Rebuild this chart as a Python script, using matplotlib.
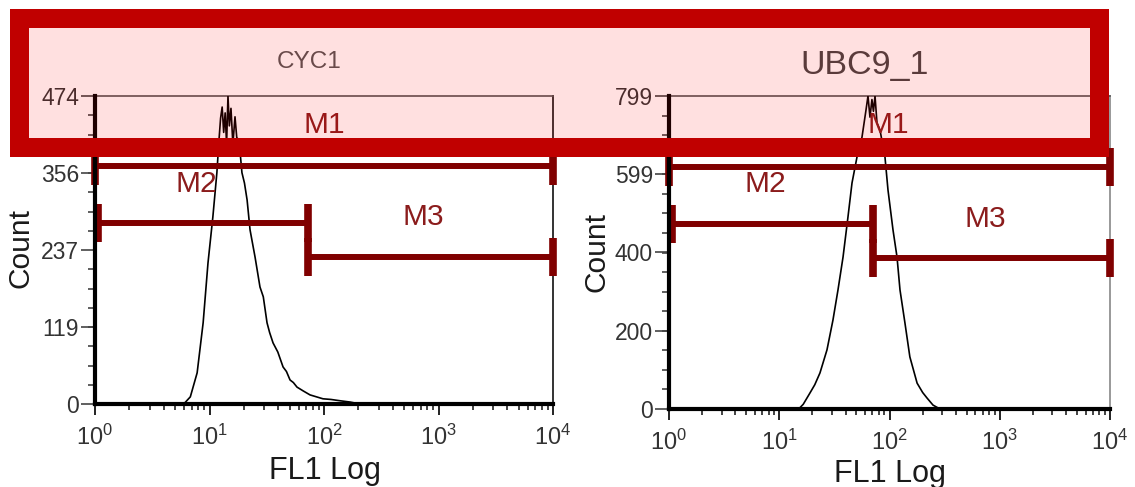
import matplotlib
matplotlib.use("Agg")
import matplotlib.pyplot as plt
from matplotlib.patches import Rectangle
from matplotlib.ticker import FixedLocator, LogLocator, NullFormatter
import numpy as np

plt.rcParams['font.family'] = ['Liberation Sans', 'DejaVu Sans']
plt.rcParams['mathtext.default'] = 'regular'

# ---------------- data ----------------
panel_titles = ["CYC1", "UBC9_1"]
x_label = "FL1 Log"
y_label = "Count"
x_ticks = [1, 10, 100, 1000, 10000]
x_tick_labels = ["$10^{0}$", "$10^{1}$", "$10^{2}$", "$10^{3}$", "$10^{4}$"]

cyc1_yticks = [0, 119, 237, 356, 474]
ubc9_yticks = [0, 200, 400, 599, 799]

cyc1_fl1 = [6.1, 6.8, 7.8, 8.8, 9.7, 10.7, 11.6, 12.1, 12.5, 12.9, 13.3, 13.7,
            14.1, 14.5, 14.9, 15.4, 16.0, 16.7, 17.3, 18.1, 19.2, 20.2, 21.3,
            22.6, 25.0, 27.6, 29.5, 31.8, 33.5, 35.9, 39.5, 43.9, 47.0, 50.5,
            54.0, 58.1, 66.0, 75.5, 86.0, 98.0, 115.0, 138.0, 169.0, 206.0]
cyc1_count = [2, 11, 48, 125, 217, 288, 356, 406, 440, 457, 418, 448,
              400, 474, 428, 455, 400, 442, 410, 406, 356, 340, 314,
              268, 226, 180, 165, 125, 110, 94, 80, 57, 50, 37,
              33, 26, 20, 14, 11, 8, 7, 5, 3, 0]

ubc9_fl1 = [15.0, 16.5, 19.0, 21.0, 23.4, 27.1, 30.7, 34.1, 37.9, 42.0, 45.7,
            50.7, 56.3, 61.2, 63.8, 66.5, 69.3, 71.5, 73.9, 77.0, 82.0, 91.0,
            96.9, 107.6, 117.0, 124.5, 138.0, 153.0, 178.0, 200.0, 219.0,
            248.0, 287.0]
ubc9_count = [0, 12, 41, 62, 92, 151, 227, 304, 388, 490, 577,
              643, 694, 763, 799, 745, 790, 760, 799, 730, 712, 643,
              559, 457, 388, 304, 220, 133, 66, 42, 28,
              10, 0]

# marker gates: (name, x_start, x_end, count level)
cyc1_gates_name = ["M1", "M2", "M3"]
cyc1_gates_x0 = [1.0, 1.06, 72.0]
cyc1_gates_x1 = [10000.0, 72.0, 10000.0]
cyc1_gates_y = [366, 279, 226]

ubc9_gates_name = ["M1", "M2", "M3"]
ubc9_gates_x0 = [1.0, 1.06, 71.0]
ubc9_gates_x1 = [10000.0, 71.0, 10000.0]
ubc9_gates_y = [618, 472, 385]

# ---------------- layout ----------------
W, H = 1135, 487
fig = plt.figure(figsize=(W / 100, H / 100), dpi=100)


def fx(px):
    return px / W


def fy(py):
    return 1 - py / H


def make_axes(x0, x1, y0, y1):
    return fig.add_axes([fx(x0), fy(y1), fx(x1) - fx(x0), fy(y0) - fy(y1)])


ax1 = make_axes(95, 553, 96, 404)
ax2 = make_axes(669, 1110, 96, 409)

GATE_COLOR = "#800000"
LABEL_COLOR = "#8B1C1C"
TICK_COLOR = "#333333"


def style_axes(ax, yticks, right_spine_color):
    ax.set_xscale('log')
    ax.set_xlim(1, 10000)
    ax.set_ylim(0, yticks[-1])
    ax.set_xticks(x_ticks)
    ax.set_xticklabels(x_tick_labels)
    ax.xaxis.set_minor_locator(LogLocator(base=10, subs=np.arange(2, 10)))
    ax.xaxis.set_minor_formatter(NullFormatter())
    ax.set_yticks(yticks)
    ax.set_yticklabels([str(v) for v in yticks])
    ax.yaxis.set_minor_locator(FixedLocator(np.linspace(0, yticks[-1], 17)))
    ax.tick_params(axis='x', which='major', direction='out', length=8, width=1.4,
                   color='#222222', labelsize=17, labelcolor=TICK_COLOR, pad=7)
    ax.tick_params(axis='x', which='minor', direction='out', length=4.5, width=1.2,
                   color='#222222')
    ax.tick_params(axis='y', which='major', direction='out', length=10, width=1.2,
                   color='#444444', labelsize=16.5, labelcolor=TICK_COLOR, pad=1.5)
    ax.tick_params(axis='y', which='minor', direction='out', length=5, width=1.2,
                   color='#444444')
    for s in ['left', 'bottom']:
        ax.spines[s].set_linewidth(3)
        ax.spines[s].set_color('black')
    ax.spines['top'].set_linewidth(1.2)
    ax.spines['top'].set_color('#555555')
    ax.spines['right'].set_linewidth(1.4)
    ax.spines['right'].set_color(right_spine_color)
    ax.spines['left'].set_zorder(5)
    ax.spines['bottom'].set_zorder(5)


style_axes(ax1, cyc1_yticks, '#333333')
style_axes(ax2, ubc9_yticks, '#999999')

ax1.plot(cyc1_fl1, cyc1_count, color='black', lw=1.2, zorder=3)
ax2.plot(ubc9_fl1, ubc9_count, color='black', lw=1.2, zorder=3)


def draw_gates(ax, x0s, x1s, ys):
    for x0, x1, y in zip(x0s, x1s, ys):
        ax.plot([x0, x1], [y, y], color=GATE_COLOR, lw=4.3, solid_capstyle='butt',
                zorder=4, clip_on=False)
        ax.plot([x0, x1], [y, y], linestyle='none', marker='|', markersize=27,
                markeredgewidth=5.5, color=GATE_COLOR, zorder=4, clip_on=False)


draw_gates(ax1, cyc1_gates_x0, cyc1_gates_x1, cyc1_gates_y)
draw_gates(ax2, ubc9_gates_x0, ubc9_gates_x1, ubc9_gates_y)

# gate labels (pixel positions of label centres / baselines)
left_label_pos = [(324, 133), (196, 192), (423, 225)]
right_label_pos = [(888, 133), (765, 192), (985, 227)]
for name, (px, py) in zip(cyc1_gates_name, left_label_pos):
    fig.text(fx(px), fy(py), name, ha='center', va='baseline', fontsize=21.5,
             color=LABEL_COLOR)
for name, (px, py) in zip(ubc9_gates_name, right_label_pos):
    fig.text(fx(px), fy(py), name, ha='center', va='baseline', fontsize=21.5,
             color=LABEL_COLOR)

# axis labels
fig.text(fx(20), fy(248), y_label, rotation=90, ha='center', va='center',
         fontsize=21.5, color='#1a1a1a')
fig.text(fx(597), fy(252), y_label, rotation=90, ha='center', va='center',
         fontsize=21.5, color='#1a1a1a')
fig.text(fx(325), fy(479), x_label, ha='center', va='baseline', fontsize=22,
         color='#1a1a1a')
fig.text(fx(890), fy(482), x_label, ha='center', va='baseline', fontsize=22,
         color='#1a1a1a')

# panel titles
fig.text(fx(309), fy(68), panel_titles[0], ha='center', va='baseline',
         fontsize=17.5, color='#555555')
fig.text(fx(865), fy(74), panel_titles[1], ha='center', va='baseline',
         fontsize=24.5, color='#444444')

# highlight overlay box
bw = 19
rect = Rectangle((fx(9 + bw / 2), fy(156 - bw / 2)),
                 fx(1108 - bw / 2) - fx(9 + bw / 2),
                 fy(8 + bw / 2) - fy(156 - bw / 2),
                 transform=fig.transFigure,
                 facecolor=(1.0, 0.0, 0.0, 0.12), edgecolor='#C00000',
                 linewidth=bw * 72 / 100, joinstyle='miter', zorder=10)
fig.add_artist(rect)

fig.savefig("out.png", dpi=100)
